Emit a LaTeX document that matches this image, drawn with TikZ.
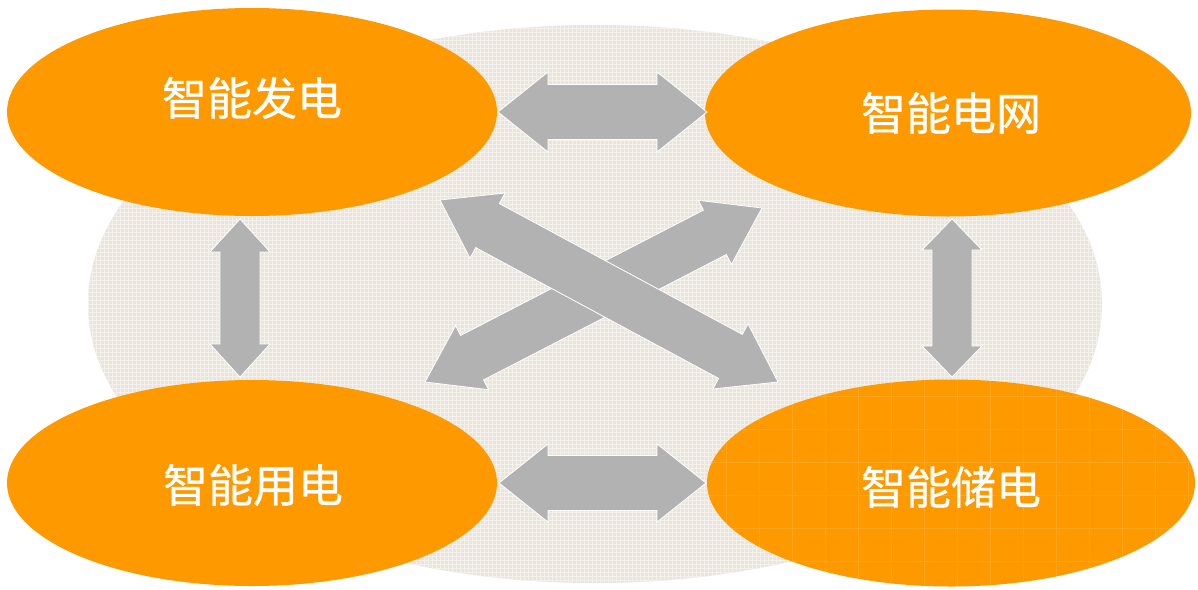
\documentclass[tikz,border=0pt]{standalone}
\usepackage{fontspec}
\newfontfamily\cjk[FakeBold=0.7]{Noto Sans CJK SC}
\usetikzlibrary{shapes.geometric,calc}
\definecolor{orng}{RGB}{255,153,0}
\definecolor{arrgray}{RGB}{178,178,178}
\definecolor{beige}{RGB}{234,229,220}
\definecolor{beigeline}{RGB}{244,241,236}
\newcommand\dblarr[5]{%
  \coordinate (#1h) at ($(#1)!#5!(#2)$);
  \coordinate (#2h) at ($(#2)!#5!(#1)$);
  \fill[blockarrow]
  (#1) -- ($(#1h)!#4!90:(#2)$) -- ($(#1h)!#3!90:(#2)$) -- ($(#2h)!#3!-90:(#1)$)
  -- ($(#2h)!#4!-90:(#1)$) -- (#2) -- ($(#2h)!#4!90:(#1)$) -- ($(#2h)!#3!90:(#1)$)
  -- ($(#1h)!#3!-90:(#2)$) -- ($(#1h)!#4!-90:(#2)$) -- cycle;}
\tikzset{
  blockarrow/.style={fill=arrgray, draw=white, line width=0.8pt, line join=miter},
  bubble/.style={ellipse, fill=orng, inner sep=0pt},
  label/.style={text=white, font=\cjk\fontsize{45}{45}\selectfont, inner sep=0pt}
}
\begin{document}
\begin{tikzpicture}[x=1pt,y=-1pt]
\useasboundingbox (0,0) rectangle (1198,589);
\fill[white] (0,0) rectangle (1198,589);
% background textured ellipse
\node[ellipse, fill=beige, minimum width=1014pt, minimum height=558pt, inner sep=0pt] (bg) at (595,304) {};
\begin{scope}
  \clip (595,304) ellipse [x radius=507pt, y radius=279pt];
  \draw[beigeline, line width=0.5pt, step=4pt] (80,20) grid (1110,590);
\end{scope}
% bubbles
\node[bubble, minimum width=490pt, minimum height=208pt] (gen) at (252,112) {};
\node[bubble, minimum width=486pt, minimum height=207pt] (grid) at (948,113) {};
\node[bubble, minimum width=490pt, minimum height=206pt] (use) at (252,483) {};
\node[bubble, minimum width=488pt, minimum height=207pt] (stor) at (951,483) {};
\begin{scope}
  \clip (951,483) ellipse [x radius=244pt, y radius=103.5pt];
  \draw[orng!60!white, opacity=0.3, line width=0.7pt, step=33pt] (700,370) grid (1198,589);
\end{scope}
% texts
\node[label] (tgen) at (252,98) {智能发电};
\node[label] (tgrid) at (951,113) {智能电网};
\node[label] (tuse) at (253,485) {智能用电};
\node[label] (tstor) at (951,487) {智能储电};
% arrow end points
\coordinate (h1a) at (498,112); \coordinate (h1b) at (707,112);
\coordinate (h2a) at (499,483); \coordinate (h2b) at (706,483);
\coordinate (v1a) at (240,219); \coordinate (v1b) at (240,377);
\coordinate (v2a) at (952,219); \coordinate (v2b) at (952,377);
\coordinate (da) at (425,382); \coordinate (db) at (762,208);
\coordinate (dc) at (440,200); \coordinate (dd) at (778,382);
% arrows
\dblarr{h1a}{h1b}{27.5pt}{40pt}{50pt}
\dblarr{h2a}{h2b}{27.5pt}{39pt}{49pt}
\dblarr{v1a}{v1b}{20pt}{30pt}{33pt}
\dblarr{v2a}{v2b}{20pt}{30pt}{31pt}
\dblarr{da}{db}{25pt}{36pt}{53pt}
\dblarr{dc}{dd}{25pt}{37pt}{54pt}
\end{tikzpicture}
\end{document}
